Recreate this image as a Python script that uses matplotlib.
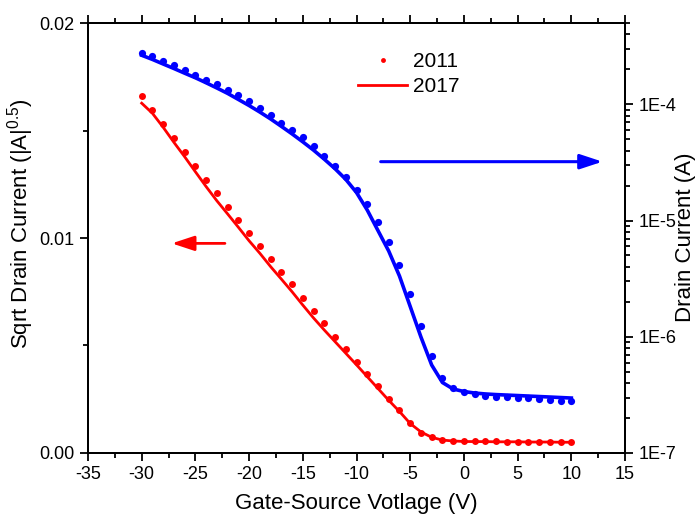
import math
import matplotlib
matplotlib.use("Agg")
import matplotlib.pyplot as plt
from matplotlib.ticker import MultipleLocator, FixedLocator, LogLocator, FuncFormatter, NullFormatter

plt.rcParams['font.family'] = ['Liberation Sans', 'DejaVu Sans']
plt.rcParams['axes.unicode_minus'] = False

# gate-source voltage (V)
vgs = list(range(-30, 11))

# sqrt drain current, left axis
sqrt_2011 = [0.0166, 0.01595, 0.0153, 0.01464, 0.01401, 0.01335, 0.0127, 0.01208, 0.01143, 0.01084,
             0.01022, 0.00963, 0.00901, 0.00843, 0.00785, 0.00722, 0.00662, 0.00603, 0.00541, 0.00484,
             0.00425, 0.00367, 0.00312, 0.0025, 0.002, 0.00138, 0.00095, 0.00076, 0.0006, 0.00056,
             0.00055, 0.00055, 0.00054, 0.00054, 0.00053, 0.00053, 0.00052, 0.00052, 0.00051, 0.00051, 0.00051]
sqrt_2017 = [0.01627, 0.0158, 0.01515, 0.01445, 0.01378, 0.01308, 0.01239, 0.01173, 0.01112, 0.0105,
             0.00987, 0.00929, 0.00867, 0.00809, 0.0075, 0.00688, 0.00628, 0.00572, 0.00518, 0.00464,
             0.0041, 0.00355, 0.003, 0.00245, 0.00193, 0.00137, 0.00098, 0.00073, 0.0006, 0.00056,
             0.000535, 0.00053, 0.00053, 0.00052, 0.00052, 0.00052, 0.00051, 0.00051, 0.00051, 0.0005, 0.0005]

# drain current (A), right log axis
id_2011 = [2.77e-4, 2.59e-4, 2.36e-4, 2.17e-4, 1.96e-4, 1.80e-4, 1.63e-4, 1.48e-4, 1.32e-4, 1.20e-4,
           1.06e-4, 9.20e-5, 8.06e-5, 6.92e-5, 5.99e-5, 5.18e-5, 4.36e-5, 3.58e-5, 2.94e-5, 2.35e-5,
           1.83e-5, 1.38e-5, 9.74e-6, 6.56e-6, 4.13e-6, 2.31e-6, 1.24e-6, 6.82e-7, 4.39e-7, 3.60e-7,
           3.37e-7, 3.22e-7, 3.09e-7, 3.05e-7, 3.05e-7, 2.99e-7, 2.95e-7, 2.90e-7, 2.86e-7, 2.82e-7, 2.78e-7]
id_2017 = [2.64e-4, 2.43e-4, 2.22e-4, 2.03e-4, 1.85e-4, 1.69e-4, 1.53e-4, 1.38e-4, 1.24e-4, 1.10e-4,
           9.75e-5, 8.57e-5, 7.48e-5, 6.46e-5, 5.56e-5, 4.75e-5, 4.03e-5, 3.37e-5, 2.79e-5, 2.26e-5,
           1.74e-5, 1.23e-5, 8.19e-6, 5.46e-6, 3.33e-6, 1.82e-6, 9.94e-7, 5.71e-7, 4.04e-7, 3.55e-7,
           3.38e-7, 3.28e-7, 3.22e-7, 3.18e-7, 3.15e-7, 3.12e-7, 3.09e-7, 3.06e-7, 3.03e-7, 3.00e-7, 2.97e-7]

RED = '#ff0000'
BLUE = '#0000ff'

fig = plt.figure(figsize=(7, 5.17), dpi=100)
ax = fig.add_axes([0.1257, 0.1238, 0.7672, 0.8317])
ax2 = ax.twinx()

# left axis - sqrt current
ax.plot(vgs, sqrt_2017, color=RED, lw=2.0, label='2017', zorder=2)
ax.plot(vgs, sqrt_2011, 'o', color=RED, ms=5, mew=0, label='2011', zorder=3)

# right axis - log current
ax2.plot(vgs, id_2017, color=BLUE, lw=2.6, zorder=2)
ax2.plot(vgs, id_2011, 'o', color=BLUE, ms=5.2, mew=0, zorder=3)

ax.set_xlim(-35, 15)
ax.set_ylim(0, 0.02)
ax.xaxis.set_major_locator(MultipleLocator(5))
ax.xaxis.set_minor_locator(MultipleLocator(2.5))
ax.yaxis.set_major_locator(FixedLocator([0, 0.01, 0.02]))
ax.yaxis.set_minor_locator(FixedLocator([0.005, 0.015]))
ax.set_yticklabels(['0.00', '0.01', '0.02'])

ax2.set_yscale('log')
ax2.set_ylim(1e-7, 5e-4)
ax2.yaxis.set_major_locator(LogLocator(base=10, numticks=10))
ax2.yaxis.set_minor_locator(LogLocator(base=10, subs=range(2, 10), numticks=10))
ax2.yaxis.set_major_formatter(FuncFormatter(lambda v, p: '1E%d' % round(math.log10(v))))
ax2.yaxis.set_minor_formatter(NullFormatter())

for a in (ax, ax2):
    for s in a.spines.values():
        s.set_linewidth(1.4)
ax.tick_params(axis='both', which='major', direction='out', length=6, width=1.3, labelsize=13, top=True)
ax.tick_params(axis='both', which='minor', direction='out', length=3.5, width=1.3, top=True)
ax.tick_params(axis='x', which='both', labeltop=False)
ax2.tick_params(axis='y', which='major', direction='out', length=6, width=1.3, labelsize=13)
ax2.tick_params(axis='y', which='minor', direction='out', length=3.5, width=1.3)

ax.set_xlabel('Gate-Source Votlage (V)', fontsize=16)
ax.set_ylabel(r'Sqrt Drain Current (|A|$^{\mathregular{0.5}}$)', fontsize=16)
ax2.set_ylabel('Drain Current (A)', fontsize=16)
ax.xaxis.set_label_coords(0.5, -0.093)
ax.yaxis.set_label_coords(-0.096, 0.533)
ax2.yaxis.set_label_coords(1.093, 0.502)

# arrows pointing to the axes
ax.annotate('', xy=(-27.2, 0.00975), xytext=(-22.25, 0.00975),
            arrowprops=dict(arrowstyle='-|>,head_length=0.85,head_width=0.28', color=RED,
                            lw=2.0, mutation_scale=16, shrinkA=0, shrinkB=0))
ax.annotate('', xy=(12.9, 0.01355), xytext=(-7.75, 0.01355),
            arrowprops=dict(arrowstyle='-|>,head_length=0.85,head_width=0.28', color=BLUE,
                            lw=2.2, mutation_scale=16, shrinkA=0, shrinkB=0))

h, l = ax.get_legend_handles_labels()
ax.legend([h[1], h[0]], [l[1], l[0]], loc='upper left', bbox_to_anchor=(0.468, 0.976),
          frameon=False, fontsize=15, handlelength=2.35, handletextpad=0.3,
          labelspacing=0.3, markerscale=0.7)

fig.savefig('out.png', dpi=100)
